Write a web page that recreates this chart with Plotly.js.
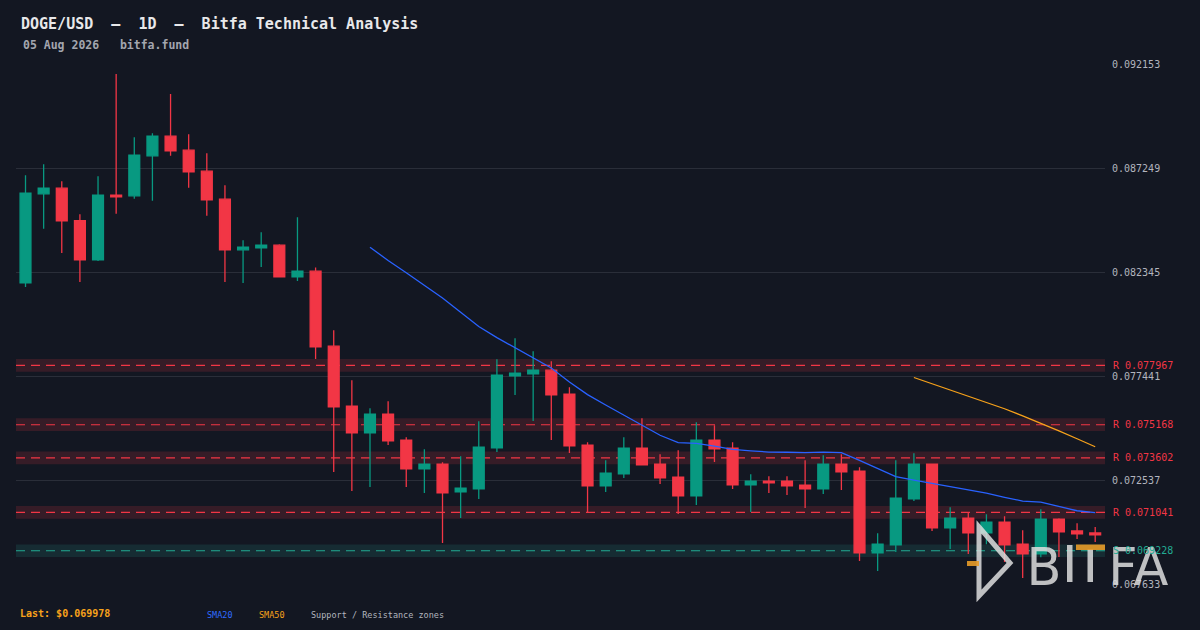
<!DOCTYPE html>
<html>
<head>
<meta charset="utf-8">
<script src="https://cdn.plot.ly/plotly-3.0.1.min.js"></script>
<style>
html,body{margin:0;padding:0;background:#131722;}
#chart{width:1200px;height:630px;}
</style>
</head>
<body>
<div id="chart"></div>
<script>
// ---------------- data ----------------
const dates = [
 '2026-06-07','2026-06-08','2026-06-09','2026-06-10','2026-06-11','2026-06-12','2026-06-13','2026-06-14','2026-06-15','2026-06-16',
 '2026-06-17','2026-06-18','2026-06-19','2026-06-20','2026-06-21','2026-06-22','2026-06-23','2026-06-24','2026-06-25','2026-06-26',
 '2026-06-27','2026-06-28','2026-06-29','2026-06-30','2026-07-01','2026-07-02','2026-07-03','2026-07-04','2026-07-05','2026-07-06',
 '2026-07-07','2026-07-08','2026-07-09','2026-07-10','2026-07-11','2026-07-12','2026-07-13','2026-07-14','2026-07-15','2026-07-16',
 '2026-07-17','2026-07-18','2026-07-19','2026-07-20','2026-07-21','2026-07-22','2026-07-23','2026-07-24','2026-07-25','2026-07-26',
 '2026-07-27','2026-07-28','2026-07-29','2026-07-30','2026-07-31','2026-08-01','2026-08-02','2026-08-03','2026-08-04','2026-08-05'
];
const opens = [0.081854,0.086051,0.086320,0.084790,0.082939,0.085990,0.085957,0.087843,0.088772,0.088112,
 0.087122,0.085801,0.083411,0.083505,0.083632,0.082137,0.082406,0.078870,0.076040,0.074781,
 0.075663,0.074437,0.073084,0.073306,0.071999,0.072141,0.074074,0.077469,0.077563,0.077738,
 0.076606,0.074201,0.072282,0.072848,0.074060,0.073306,0.072693,0.071811,0.074437,0.074060,
 0.072329,0.072504,0.072504,0.072315,0.072141,0.073306,0.072975,0.069123,0.069500,0.071669,
 0.073306,0.070302,0.070759,0.070066,0.070571,0.069533,0.069076,0.070712,0.070160,0.070066];
const highs = [0.086933,0.087452,0.086650,0.085094,0.086886,0.091696,0.088725,0.088913,0.090753,0.088866,
 0.087970,0.086462,0.083868,0.084245,0.083679,0.084953,0.082581,0.079624,0.077266,0.075946,
 0.076276,0.074579,0.074013,0.073400,0.073683,0.075333,0.078257,0.079247,0.078634,0.078162,
 0.076936,0.074343,0.073494,0.074579,0.075475,0.073777,0.073966,0.075286,0.075145,0.074343,
 0.072834,0.072740,0.072740,0.073494,0.073730,0.073777,0.073164,0.070052,0.073494,0.073824,
 0.073306,0.071278,0.071042,0.070948,0.070853,0.070193,0.071184,0.070759,0.070523,0.070349];
const lows = [0.081666,0.084401,0.083269,0.081902,0.082892,0.085108,0.085815,0.085721,0.087843,0.086334,
 0.085014,0.081902,0.081854,0.082609,0.082123,0.081949,0.078271,0.072942,0.072047,0.072235,
 0.074215,0.072235,0.071952,0.069594,0.070773,0.071669,0.073885,0.076573,0.075347,0.074451,
 0.073838,0.071056,0.071999,0.072659,0.073273,0.072377,0.070962,0.071386,0.073414,0.072141,
 0.071056,0.071952,0.071858,0.071245,0.071905,0.072094,0.068746,0.068274,0.069170,0.071575,
 0.070160,0.069311,0.069076,0.069533,0.068699,0.067944,0.068920,0.068934,0.069783,0.069642];
const closes = [0.086084,0.086320,0.084778,0.082939,0.085990,0.085910,0.087876,0.088772,0.088079,0.087089,
 0.085768,0.083411,0.083538,0.083632,0.082137,0.082406,0.078837,0.076007,0.074781,0.075663,
 0.074404,0.073084,0.073306,0.071952,0.072174,0.074107,0.077502,0.077597,0.077738,0.076573,
 0.074169,0.072282,0.072881,0.074060,0.073273,0.072659,0.071811,0.074437,0.074027,0.072329,
 0.072504,0.072424,0.072282,0.072141,0.073306,0.072942,0.069123,0.069533,0.071702,0.073306,
 0.070302,0.070759,0.070066,0.070571,0.069500,0.069076,0.070712,0.070113,0.070019,0.069978];
const sma20 = [null,null,null,null,null,null,null,null,null,null,
 null,null,null,null,null,null,null,null,null,0.083538,
 0.082911,0.082331,0.081737,0.081147,0.080473,0.079799,0.079275,0.078789,0.078327,0.077846,
 0.077182,0.076587,0.076097,0.075635,0.075173,0.074673,0.074329,0.074286,0.074159,0.074003,
 0.073937,0.073881,0.073871,0.073857,0.073881,0.073857,0.073489,0.073117,0.072726,0.072561,
 0.072410,0.072268,0.072127,0.071943,0.071749,0.071570,0.071518,0.071306,0.071113,0.071028];
const sma50 = [null,null,null,null,null,null,null,null,null,null,
 null,null,null,null,null,null,null,null,null,null,
 null,null,null,null,null,null,null,null,null,null,
 null,null,null,null,null,null,null,null,null,null,
 null,null,null,null,null,null,null,null,null,0.077394,
 0.077097,0.076819,0.076536,0.076234,0.075922,0.075583,0.075239,0.074876,0.074508,0.074131];
const zoneLevels = [0.077967, 0.075168, 0.073602, 0.071041, 0.069228];
const zoneKinds  = ['R', 'R', 'R', 'R', 'S'];
const tickVals = [0.067633, 0.072537, 0.077441, 0.082345, 0.087249, 0.092153];
const tickLabels = ['0.067633', '0.072537', '0.077441', '0.082345', '0.087249', '0.092153'];

// ---------------- layout helpers (pixel -> paper) ----------------
const PL = 16, PR = 1105, PT = 64, PB = 585;
const px2x = px => (px - PL) / (PR - PL);
const py2y = py => (PB - py) / (PB - PT);

const RED = '#f23645', GREEN = '#089981', TEAL = '#22ab94';
const BG = '#131722';
const MONO = 'DejaVu Sans Mono, monospace';
const halfBand = 0.0003;

const traces = [
  {
    type: 'candlestick', x: dates, open: opens, high: highs, low: lows, close: closes,
    increasing: {line: {color: GREEN, width: 1.3}, fillcolor: GREEN},
    decreasing: {line: {color: RED, width: 1.3}, fillcolor: RED},
    whiskerwidth: 0, showlegend: false, hoverinfo: 'skip'
  },
  {type: 'scatter', mode: 'lines', x: dates, y: sma20, line: {color: '#2962ff', width: 1.3}, showlegend: false, hoverinfo: 'skip'},
  {type: 'scatter', mode: 'lines', x: dates, y: sma50, line: {color: '#f7a21b', width: 1.3}, showlegend: false, hoverinfo: 'skip'}
];

const shapes = [];
const annotations = [];

zoneLevels.forEach((lvl, i) => {
  const isR = zoneKinds[i] === 'R';
  const c = isR ? RED : TEAL;
  const fill = isR ? 'rgba(242,54,69,0.16)' : 'rgba(38,166,154,0.15)';
  shapes.push({type: 'rect', xref: 'paper', yref: 'y', x0: 0, x1: 1, y0: lvl - halfBand, y1: lvl + halfBand,
    fillcolor: fill, line: {width: 0}, layer: 'between'});
  shapes.push({type: 'line', xref: 'paper', yref: 'y', x0: 0, x1: 1, y0: lvl, y1: lvl,
    line: {color: c, width: 1.2, dash: '9px,6px'}, layer: 'between'});
  annotations.push({xref: 'paper', yref: 'y', x: px2x(1111), y: lvl, xanchor: 'left', yanchor: 'middle',
    text: zoneKinds[i] + ' ' + lvl.toFixed(6), showarrow: false, font: {family: MONO, size: 10, color: c}});
});

// watermark logo (decoration)
const LOGO = 'rgba(222,222,222,0.85)';
const ORANGE = 'rgba(232,155,40,0.9)';
function rectPx(x0, y0, x1, y1, color, extra) {
  return Object.assign({type: 'rect', xref: 'paper', yref: 'paper', x0: px2x(x0), x1: px2x(x1), y0: py2y(y1), y1: py2y(y0),
    fillcolor: color, line: {width: 0}, layer: 'above'}, extra || {});
}
shapes.push({type: 'path', xref: 'paper', yref: 'paper', layer: 'above',
  path: 'M' + px2x(979) + ',' + py2y(527) + ' L' + px2x(1010) + ',' + py2y(563) + ' L' + px2x(979) + ',' + py2y(596) + ' Z',
  line: {color: LOGO, width: 5}, fillcolor: 'rgba(0,0,0,0)'});
shapes.push(rectPx(967, 561, 979, 566, ORANGE));
function letter(ch, x0, x1) {
  shapes.push(rectPx(x0, 545, x1, 582, 'rgba(0,0,0,0)', {layer: 'above',
    label: {text: ch, font: {family: 'DejaVu Sans', size: 51, color: LOGO}, textposition: 'middle center', padding: 0}}));
}
letter('B', 1028, 1060);
shapes.push(rectPx(1067, 545, 1072.5, 582, LOGO));
shapes.push(rectPx(1087.5, 549, 1093, 582, LOGO));
shapes.push(rectPx(1076, 544.5, 1105, 550, ORANGE));
letter('F', 1109, 1137);
letter('A', 1134, 1168);

// header / footer text
annotations.push({xref: 'paper', yref: 'paper', x: px2x(21), y: py2y(45), xanchor: 'left', yanchor: 'middle',
  text: '05 Aug 2026\u00a0\u00a0\u00a0bitfa.fund', showarrow: false,
  font: {family: MONO, size: 11.5, color: '#a3a6af', weight: 'bold'}});
annotations.push({xref: 'paper', yref: 'paper', x: px2x(18), y: py2y(613), xanchor: 'left', yanchor: 'middle',
  text: 'Last: $' + closes[closes.length - 1].toFixed(6), showarrow: false,
  font: {family: MONO, size: 10, color: '#f7a21b', weight: 'bold'}});
const legendItems = [['SMA20', '#2f6bff', 205], ['SMA50', '#f7a21b', 257], ['Support / Resistance zones', '#b2b5be', 309]];
legendItems.forEach(it => annotations.push({xref: 'paper', yref: 'paper', x: px2x(it[2]), y: py2y(615), xanchor: 'left', yanchor: 'middle',
  text: it[0], showarrow: false, font: {family: MONO, size: 8.5, color: it[1]}}));

const layout = {
  width: 1200, height: 630,
  paper_bgcolor: BG, plot_bgcolor: BG,
  margin: {l: PL, r: 1200 - PR, t: PT, b: 630 - PB, pad: 0},
  title: {text: 'DOGE/USD\u00a0\u00a0–\u00a0\u00a01D\u00a0\u00a0–\u00a0\u00a0Bitfa Technical Analysis',
    x: 21 / 1200, xanchor: 'left', xref: 'container', y: 1 - 24 / 630, yanchor: 'middle', yref: 'container',
    font: {family: MONO, size: 15, color: '#e8e8ea', weight: 'bold'}},
  showlegend: false,
  boxgap: 0.4, boxgroupgap: 0,
  xaxis: {type: 'date', range: ['2026-06-06 11:25', '2026-08-05 12:58'], showgrid: false, zeroline: false,
    showticklabels: false, ticks: '', showline: false, rangeslider: {visible: false}, fixedrange: true},
  yaxis: {side: 'right', range: [0.067613, 0.092173], tickvals: tickVals, ticktext: tickLabels,
    showgrid: true, gridcolor: '#2a2e39', gridwidth: 1, zeroline: false, showline: false, ticks: '',
    ticklabelstandoff: 6, tickfont: {family: MONO, size: 10, color: '#b2b5be'}, fixedrange: true},
  shapes: shapes,
  annotations: annotations,
  hovermode: false
};

Plotly.newPlot('chart', traces, layout, {staticPlot: true, displayModeBar: false});
</script>
</body>
</html>
